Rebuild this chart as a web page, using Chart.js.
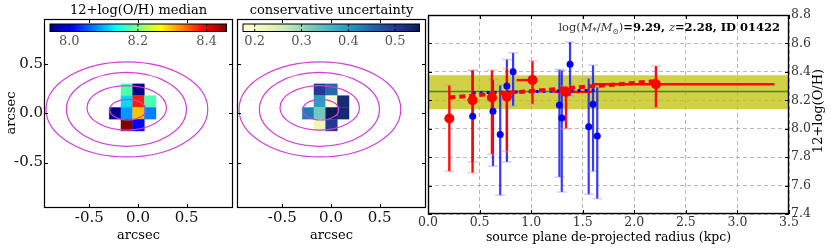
<!DOCTYPE html>
<html>
<head>
<meta charset="utf-8">
<script src="https://cdn.jsdelivr.net/npm/chart.js@4.4.1/dist/chart.umd.min.js"></script>
<style>
  html, body { margin: 0; padding: 0; background: #fff; }
  #fig { position: relative; width: 831px; height: 252px; overflow: hidden; }
  #fig canvas { position: absolute; left: 0; top: 0; }
</style>
</head>
<body>
<div id="fig">
  <canvas id="medianMap" width="831" height="252"></canvas>
  <canvas id="uncertMap" width="831" height="252"></canvas>
  <canvas id="gradientPlot" width="831" height="252"></canvas>
</div>
<script>
// --- 1. map pixels (arcsec offsets) ---
const pixX = [-0.115, 0.005, -0.115, 0.005, 0.125, -0.235, -0.115, 0.005, 0.125, -0.115, 0.005];
const pixY = [0.24, 0.24, 0.12, 0.12, 0.12, 0.0, 0.0, 0.0, 0.0, -0.12, -0.12];
const pixMedian = [8.178, 7.950, 8.117, 8.378, 8.175, 7.952, 8.085, 8.297, 8.073, 8.458, 8.006];
const pixUncert = [0.500, 0.447, 0.394, 0.186, 0.525, 0.428, 0.326, 0.552, 0.530, 0.220, 0.500];
const pixSize = 0.12;

// magenta contours (ellipses, arcsec)
const contourX  = [-0.114, -0.119, -0.116, -0.105];
const contourY  = [0.040, 0.040, 0.056, 0.037];
const contourRX = [0.830, 0.616, 0.408, 0.185];
const contourRY = [0.483, 0.375, 0.226, 0.105];

const mapRange = [-0.965, 0.975];
const mapRangeY = [-0.962, 0.958];
const mapTicks = [-0.5, 0.0, 0.5];
const medianBar = [7.944, 8.458];
const medianBarTicks = [8.0, 8.2, 8.4];
const uncertBar = [0.175, 0.552];
const uncertBarTicks = [0.2, 0.3, 0.4, 0.5];

// --- 2. radial profile ---
const redR   = [0.207, 0.432, 0.620, 0.765, 1.013, 1.338, 2.210];
const redOH  = [8.072, 8.200, 8.220, 8.225, 8.342, 8.259, 8.313];
const redLo  = [7.700, 7.690, 7.820, 7.840, 8.173, 8.000, 8.149];
const redHi  = [8.306, 8.412, 8.412, 8.424, 8.477, 8.300, 8.442];
const redRLo = [0.207, 0.432, 0.620, 0.765, 0.860, 1.216, 1.600];
const redRHi = [0.207, 0.432, 0.620, 0.765, 1.013, 1.587, 3.360];

const blueR  = [0.433, 0.630, 0.700, 0.765, 0.825, 1.274, 1.297, 1.377, 1.558, 1.600, 1.641];
const blueOH = [8.088, 8.122, 7.959, 8.300, 8.400, 8.166, 8.076, 8.454, 8.013, 8.172, 7.949];
const blueLo = [7.766, 7.736, 7.532, 7.766, 8.160, 7.660, 7.555, 8.231, 7.539, 7.700, 7.508];
const blueHi = [8.410, 8.346, 8.306, 8.487, 8.534, 8.417, 8.410, 8.610, 8.353, 8.447, 8.294];

const redFitR = [0.207, 2.210];
const redFitOH = [8.220, 8.334];
const blueFitR = [0.433, 1.641];
const blueFitOH = [8.252, 8.271];
const meanOH = 8.262;
const bandOH = [8.137, 8.377];

const radiusTicks = [0.0, 0.5, 1.0, 1.5, 2.0, 2.5, 3.0, 3.5];
const ohTicks = [7.4, 7.6, 7.8, 8.0, 8.2, 8.4, 8.6, 8.8];

// --- colormaps ---
const SERIF = "'DejaVu Serif', serif";
function jet(t) {
  t = Math.min(1, Math.max(0, t));
  const c = v => Math.round(255 * Math.min(1, Math.max(0, v)));
  return `rgb(${c(1.5 - Math.abs(4 * t - 3))},${c(1.5 - Math.abs(4 * t - 2))},${c(1.5 - Math.abs(4 * t - 1))})`;
}
const YLGNBU = ['#ffffd9', '#edf8b1', '#c7e9b4', '#7fcdbb', '#41b6c4', '#1d91c0', '#225ea8', '#253494', '#081d58'];
function ylgnbu(t) {
  t = Math.min(1, Math.max(0, t));
  const p = t * (YLGNBU.length - 1);
  const i = Math.min(YLGNBU.length - 2, Math.floor(p));
  const f = p - i;
  const a = YLGNBU[i], b = YLGNBU[i + 1];
  const ch = (h, k) => parseInt(h.substr(1 + 2 * k, 2), 16);
  const m = k => Math.round(ch(a, k) + (ch(b, k) - ch(a, k)) * f);
  return `rgb(${m(0)},${m(1)},${m(2)})`;
}

function line(ctx, x1, y1, x2, y2) {
  ctx.beginPath(); ctx.moveTo(x1, y1); ctx.lineTo(x2, y2); ctx.stroke();
}

function frameAndTicks(chart, xTicks, yTicks, len, lw) {
  const { ctx, chartArea: a, scales } = chart;
  ctx.save();
  ctx.setLineDash([]);
  ctx.strokeStyle = '#000';
  ctx.lineWidth = 1;
  ctx.beginPath();
  xTicks.forEach(v => {
    const x = Math.round(scales.x.getPixelForValue(v)) + 0.5;
    ctx.moveTo(x, a.bottom); ctx.lineTo(x, a.bottom - len);
    ctx.moveTo(x, a.top); ctx.lineTo(x, a.top + len);
  });
  yTicks.forEach(v => {
    const y = Math.round(scales.y.getPixelForValue(v)) + 0.5;
    ctx.moveTo(a.left, y); ctx.lineTo(a.left + len, y);
    ctx.moveTo(a.right, y); ctx.lineTo(a.right - len, y);
  });
  ctx.stroke();
  ctx.lineWidth = lw;
  ctx.strokeRect(a.left + 0.5, a.top + 0.5, a.right - a.left - 1, a.bottom - a.top - 1);
  ctx.restore();
}

function text(ctx, str, x, y, size, opts = {}) {
  ctx.save();
  ctx.font = `${opts.style || ''} ${size}px ${SERIF}`;
  ctx.fillStyle = opts.color || '#000';
  ctx.textAlign = opts.align || 'center';
  ctx.textBaseline = opts.baseline || 'middle';
  ctx.translate(x, y);
  if (opts.rotate) ctx.rotate(opts.rotate);
  ctx.fillText(str, 0, 0);
  ctx.restore();
}

// --- 3. map panel factory ---
function makeMap(id, values, cmap, barRange, barTicks, title, area, showY) {
  const [lo, hi] = barRange;
  const colorOf = v => cmap((v - lo) / (hi - lo));
  const yAxisW = showY ? 40 : 0, xAxisH = 40;

  const decor = {
    id: 'decor_' + id,
    afterDatasetsDraw(chart) {
      const { ctx, chartArea: a, scales: { x, y } } = chart;
      // contours
      ctx.save();
      ctx.beginPath();
      ctx.rect(a.left, a.top, a.right - a.left, a.bottom - a.top);
      ctx.clip();
      ctx.strokeStyle = '#d23fd8';
      ctx.lineWidth = 1.2;
      contourX.forEach((cx, i) => {
        const px = x.getPixelForValue(cx), py = y.getPixelForValue(contourY[i]);
        const rx = Math.abs(x.getPixelForValue(cx + contourRX[i]) - px);
        const ry = Math.abs(y.getPixelForValue(contourY[i] + contourRY[i]) - py);
        ctx.beginPath();
        ctx.ellipse(px, py, rx, ry, 0, 0, Math.PI * 2);
        ctx.stroke();
      });
      ctx.restore();
    },
    afterDraw(chart) {
      const { ctx, chartArea: a } = chart;
      // colorbar inside the top of the panel
      const x0 = a.left + 6, x1 = a.right - 6.5, y0 = a.top + 5, y1 = a.top + 12.5;
      const g = ctx.createLinearGradient(x0, 0, x1, 0);
      for (let i = 0; i <= 40; i++) g.addColorStop(i / 40, cmap(i / 40));
      ctx.save();
      ctx.fillStyle = g;
      ctx.fillRect(x0, y0, x1 - x0, y1 - y0);
      ctx.strokeStyle = '#000';
      ctx.lineWidth = 1;
      ctx.strokeRect(x0, y0, x1 - x0, y1 - y0);
      barTicks.forEach(v => {
        const px = x0 + (v - lo) / (hi - lo) * (x1 - x0);
        line(ctx, px, y0, px, y0 + 2.5);
        line(ctx, px, y1, px, y1 - 2.5);
        text(ctx, v.toFixed(1), px, y1 + 10.5, 13, { color: '#555' });
      });
      ctx.restore();
      frameAndTicks(chart, mapTicks, mapTicks, 4, 1.2);
      const cx = (a.left + a.right) / 2;
      text(ctx, title, cx, 11, 13);
      text(ctx, 'arcsec', cx, 236, 13);
      if (showY) text(ctx, 'arcsec', 12, 113, 13, { rotate: -Math.PI / 2 });
    }
  };

  const tickFont = { family: SERIF, size: 15 };
  return new Chart(document.getElementById(id), {
    type: 'scatter',
    data: {
      datasets: [{
        data: pixX.map((x, i) => ({ x, y: pixY[i], v: values[i] })),
        pointStyle: 'rect',
        pointRadius: c => {
          const s = c.chart.scales.x;
          return Math.abs(s.getPixelForValue(pixSize) - s.getPixelForValue(0)) / (2 * Math.SQRT1_2);
        },
        backgroundColor: c => colorOf(c.raw.v),
        borderColor: c => colorOf(c.raw.v),
        borderWidth: 0.4
      }]
    },
    options: {
      responsive: false,
      animation: false,
      events: [],
      layout: {
        padding: {
          left: area.l - yAxisW,
          top: area.t,
          right: 831 - area.r,
          bottom: 252 - area.b - xAxisH
        }
      },
      scales: {
        x: {
          type: 'linear', min: mapRange[0], max: mapRange[1],
          afterBuildTicks: s => { s.ticks = mapTicks.map(v => ({ value: v })); },
          afterFit: s => { s.height = xAxisH; },
          grid: { display: false, drawTicks: false },
          border: { display: false },
          ticks: { font: tickFont, color: '#111', padding: 1, maxRotation: 0, callback: v => v.toFixed(1) }
        },
        y: {
          type: 'linear', min: mapRangeY[0], max: mapRangeY[1],
          display: showY,
          afterBuildTicks: s => { s.ticks = mapTicks.map(v => ({ value: v })); },
          afterFit: s => { s.width = yAxisW; },
          grid: { display: false, drawTicks: false },
          border: { display: false },
          ticks: { font: tickFont, color: '#111', padding: 1, callback: v => v.toFixed(1) }
        }
      },
      plugins: { legend: { display: false }, tooltip: { enabled: false } }
    },
    plugins: [decor]
  });
}

makeMap('medianMap', pixMedian, jet, medianBar, medianBarTicks, '12+log(O/H) median',
  { l: 44, t: 19, r: 233, b: 208 }, true);
makeMap('uncertMap', pixUncert, ylgnbu, uncertBar, uncertBarTicks, 'conservative uncertainty',
  { l: 237, t: 19, r: 426, b: 208 }, false);

// --- 4. radial gradient panel ---
const area = { l: 428, t: 15, r: 789, b: 214 };
const pts = (xs, ys) => xs.map((x, i) => ({ x, y: ys[i] }));
const xMin = radiusTicks[0], xMax = radiusTicks[radiusTicks.length - 1];

const errorBars = {
  id: 'errorBars',
  beforeDatasetDraw(chart, args) {
    if (args.index !== 3) return;
    const { ctx, scales: { x, y } } = chart;
    const draw = (xs, ys, lo, hi, xlo, xhi, col, capCol, w) => {
      ctx.save();
      ctx.setLineDash([]);
      xs.forEach((r, i) => {
        const px = x.getPixelForValue(r);
        const pLo = y.getPixelForValue(lo[i]), pHi = y.getPixelForValue(hi[i]);
        ctx.strokeStyle = col; ctx.lineWidth = w;
        line(ctx, px, pLo, px, pHi);
        if (xlo && xhi[i] > xlo[i]) {
          const py = y.getPixelForValue(ys[i]);
          line(ctx, x.getPixelForValue(xlo[i]), py, x.getPixelForValue(xhi[i]), py);
        }
        ctx.strokeStyle = capCol; ctx.lineWidth = 1.5;
        line(ctx, px - 5, pLo, px + 5, pLo);
        line(ctx, px - 5, pHi, px + 5, pHi);
      });
      ctx.restore();
    };
    draw(blueR, blueOH, blueLo, blueHi, null, null, 'rgba(30,30,255,0.88)', 'rgba(150,150,255,0.45)', 2.2);
    draw(redR, redOH, redLo, redHi, redRLo, redRHi, 'rgba(255,0,0,0.95)', 'rgba(255,140,140,0.45)', 2.4);
  }
};

const gradDecor = {
  id: 'gradDecor',
  afterDraw(chart) {
    const { ctx, chartArea: a } = chart;
    frameAndTicks(chart, radiusTicks, ohTicks, 4, 1.4);
    text(ctx, 'source plane de-projected radius (kpc)', (a.left + a.right) / 2, 238, 12.5);
    text(ctx, '12+log(O/H)', 819, 111, 13, { rotate: -Math.PI / 2 });
    // annotation, right aligned
    const f = 11.5;
    const parts = [
      { t: 'log(', s: '' }, { t: 'M', s: 'italic' }, { t: '*', s: '', z: 8.5, dy: 3 },
      { t: '/', s: '' }, { t: 'M', s: 'italic' }, { t: '\u2299', s: '', z: 7.5, dy: 3 },
      { t: ')', s: '' }, { t: '=9.29, ', s: 'bold' }, { t: 'z', s: 'italic' },
      { t: '=2.28, ID 01422', s: 'bold' }
    ];
    ctx.save();
    ctx.textBaseline = 'alphabetic';
    ctx.textAlign = 'left';
    let total = 0;
    parts.forEach(p => { ctx.font = `${p.s} ${p.z || f}px ${SERIF}`; p.w = ctx.measureText(p.t).width; total += p.w; });
    let px = a.right - 9 - total;
    parts.forEach(p => {
      ctx.font = `${p.s} ${p.z || f}px ${SERIF}`;
      ctx.fillStyle = p.s === 'bold' ? '#000' : '#333';
      ctx.fillText(p.t, px, 31 + (p.dy || 0));
      px += p.w;
    });
    ctx.restore();
  }
};

const tickFontSmall = { family: SERIF, size: 12.5 };
new Chart(document.getElementById('gradientPlot'), {
  type: 'scatter',
  data: {
    datasets: [
      { data: pts([xMin, xMax], [bandOH[1], bandOH[1]]), showLine: true, fill: '+1',
        backgroundColor: 'rgba(191,191,0,0.72)', borderColor: 'rgba(0,0,0,0)', borderWidth: 0, pointRadius: 0, order: 10 },
      { data: pts([xMin, xMax], [bandOH[0], bandOH[0]]), showLine: true, fill: false,
        borderColor: 'rgba(0,0,0,0)', borderWidth: 0, pointRadius: 0, order: 10 },
      { data: pts([xMin, xMax], [meanOH, meanOH]), showLine: true,
        borderColor: '#3a8f1a', borderWidth: 1.5, pointRadius: 0, order: 9 },
      { data: pts(blueFitR, blueFitOH), showLine: true, borderColor: '#0000ff',
        borderWidth: 3, borderDash: [3, 4], pointRadius: 0, order: 4 },
      { data: pts(redFitR, redFitOH), showLine: true, borderColor: '#ff0000',
        borderWidth: 4, borderDash: [6, 4], pointRadius: 0, order: 3 },
      { data: pts(redR, redOH), pointRadius: 5, backgroundColor: '#ff0000', borderWidth: 0, order: 2 },
      { data: pts(blueR, blueOH), pointRadius: 3.5, backgroundColor: '#0000ff', borderWidth: 0, order: 1 }
    ]
  },
  options: {
    responsive: false,
    animation: false,
    events: [],
    layout: { padding: { left: area.l, top: area.t, right: 831 - area.r - 40, bottom: 252 - area.b - 36 } },
    scales: {
      x: {
        type: 'linear', min: xMin, max: xMax,
        afterBuildTicks: s => { s.ticks = radiusTicks.map(v => ({ value: v })); },
        afterFit: s => { s.height = 36; },
        grid: { color: '#b8b8b8', lineWidth: 1, drawTicks: false },
        border: { display: false, dash: [4, 3] },
        ticks: { font: tickFontSmall, color: '#333', padding: 1, maxRotation: 0, callback: v => v.toFixed(1) }
      },
      y: {
        type: 'linear', position: 'right', min: ohTicks[0], max: ohTicks[ohTicks.length - 1],
        afterBuildTicks: s => { s.ticks = ohTicks.map(v => ({ value: v })); },
        afterFit: s => { s.width = 40; },
        grid: { color: '#b8b8b8', lineWidth: 1, drawTicks: false },
        border: { display: false, dash: [4, 3] },
        ticks: { font: tickFontSmall, color: '#333', padding: 2, callback: v => v.toFixed(1) }
      }
    },
    plugins: { legend: { display: false }, tooltip: { enabled: false } }
  },
  plugins: [errorBars, gradDecor]
});
</script>
</body>
</html>
